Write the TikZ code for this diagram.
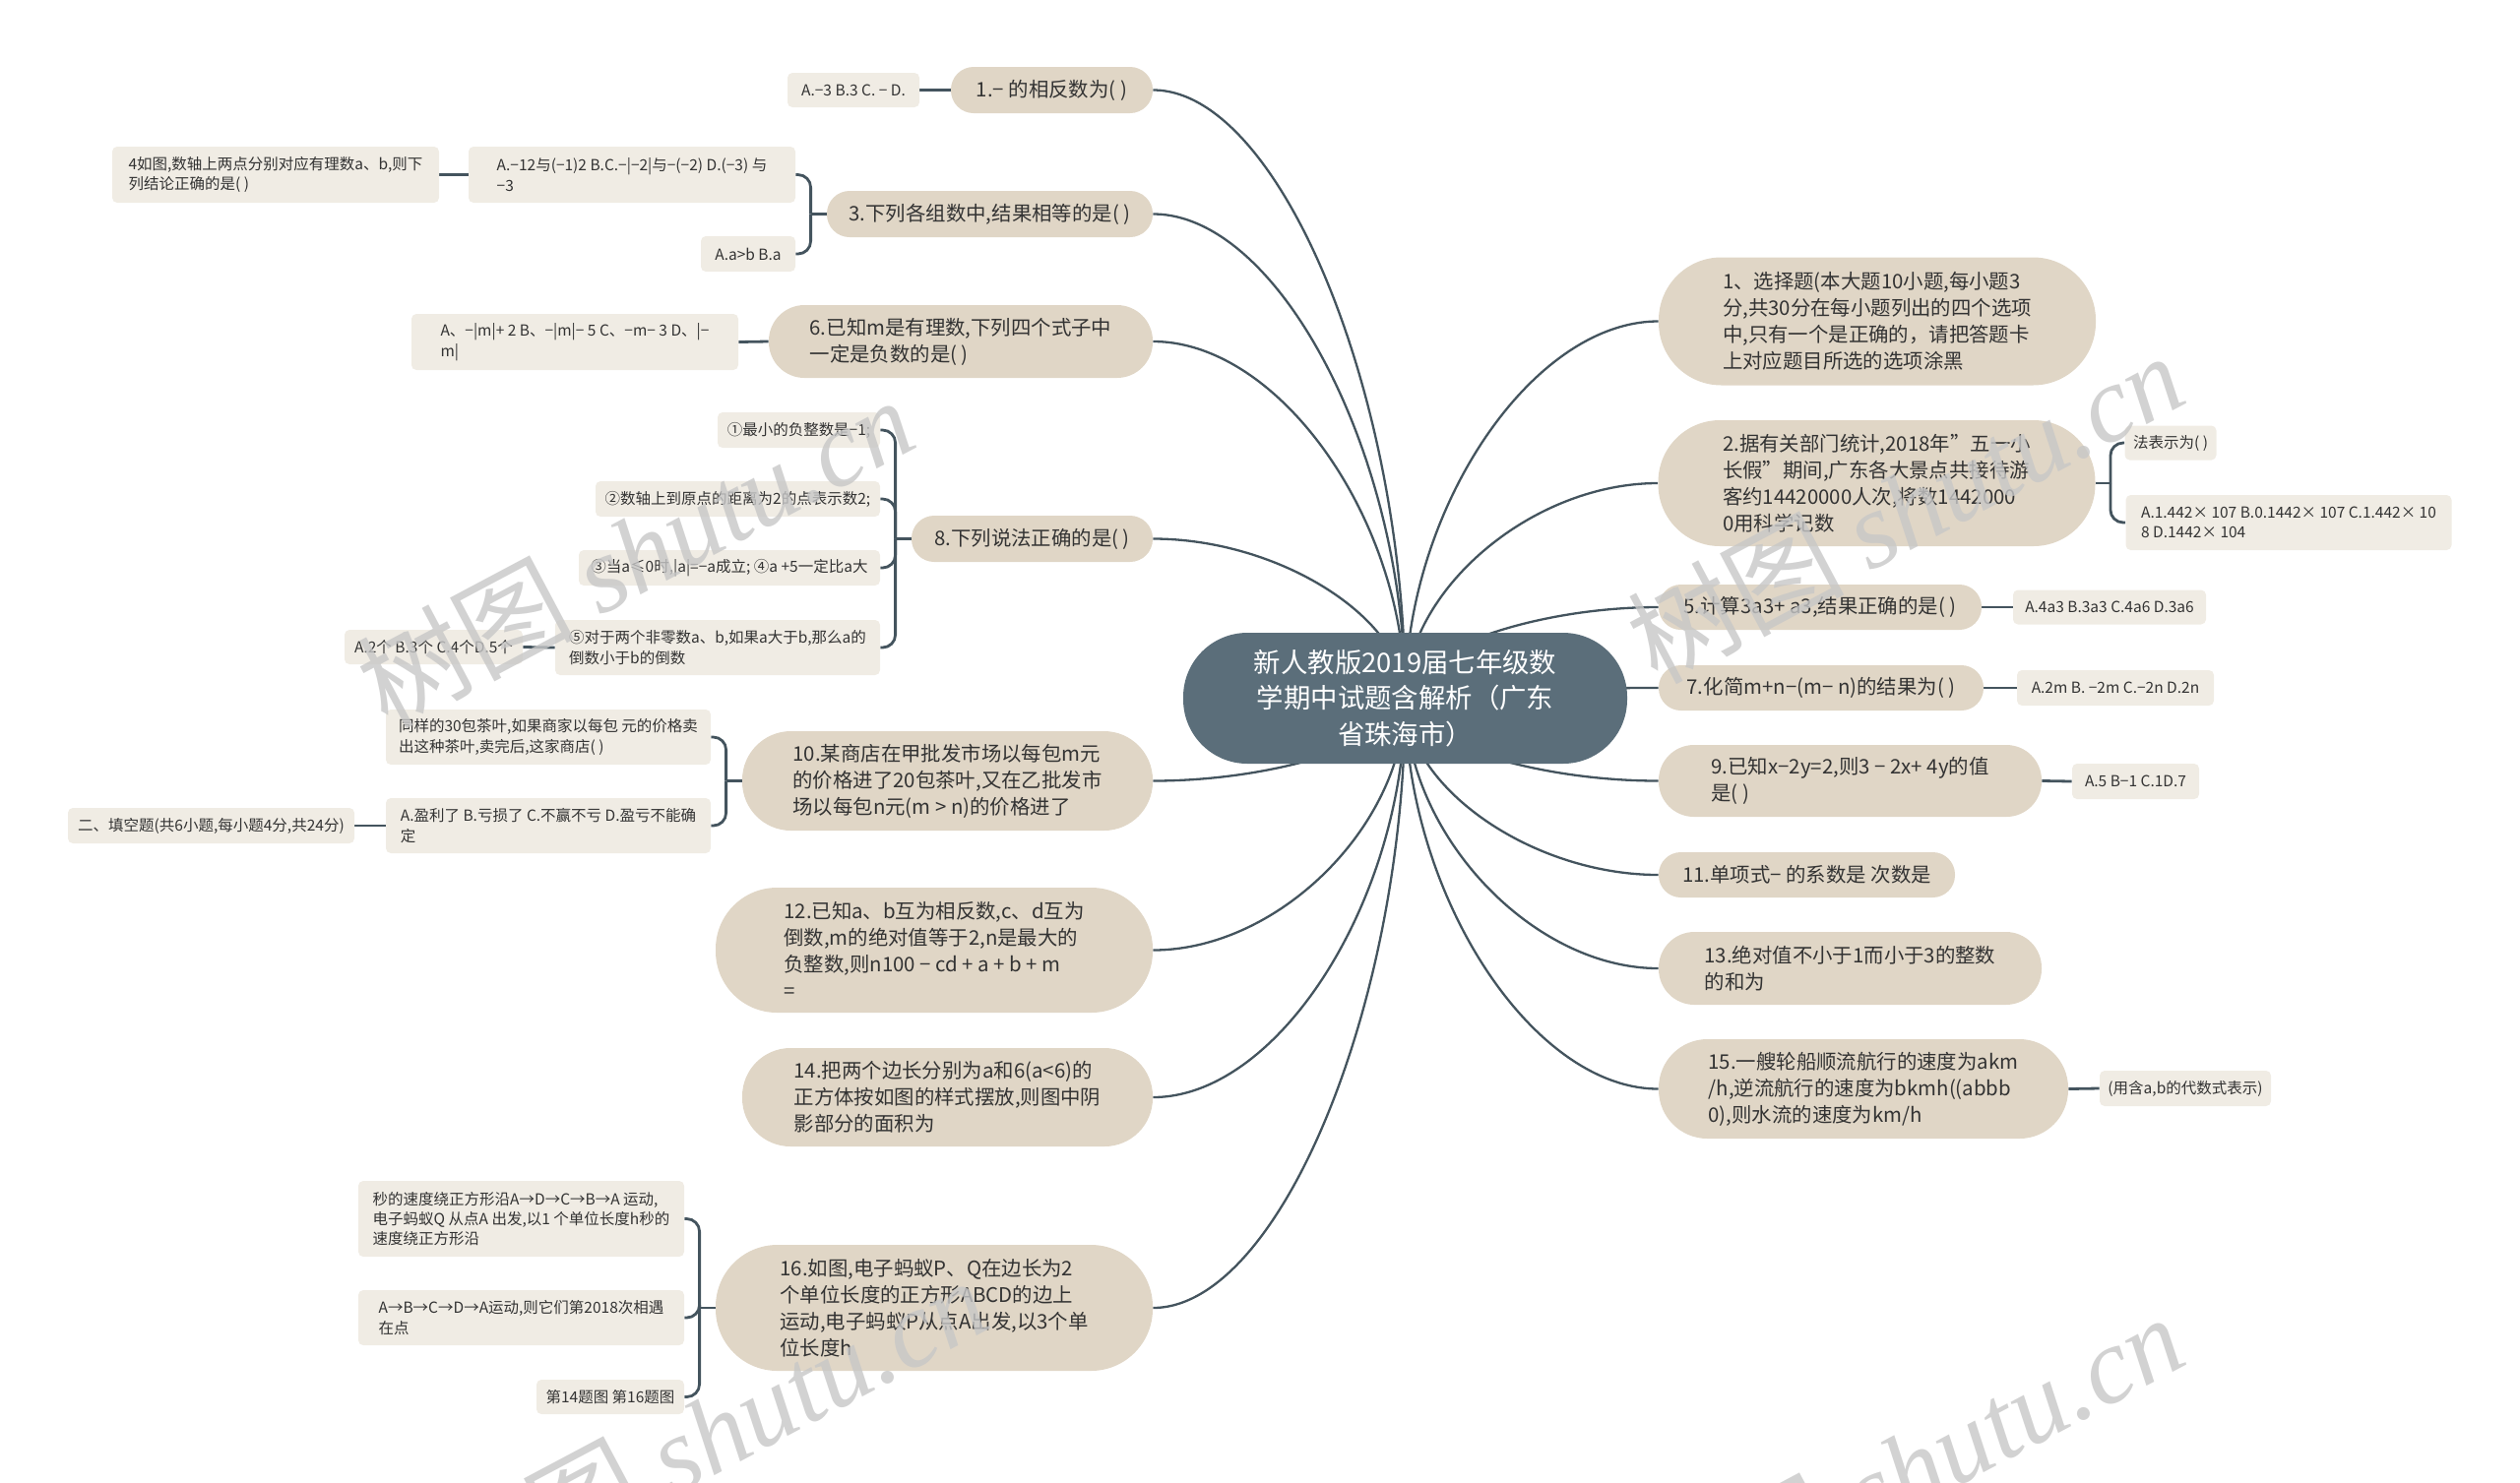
\documentclass[tikz,border=0pt]{standalone}
\usepackage{fontspec}
\setmainfont{Noto Sans CJK SC}
\newfontfamily\wmlat{Liberation Serif}
\usetikzlibrary{calc}
\definecolor{mfill}{HTML}{E0D6C6}
\definecolor{sfill}{HTML}{F0ECE4}
\definecolor{cfill}{HTML}{5B6E7A}
\definecolor{lcol}{HTML}{44545E}
\definecolor{tcol}{HTML}{333333}
\pgfdeclarelayer{bg}\pgfdeclarelayer{fg}\pgfsetlayers{bg,main,fg}
\begin{document}
\begin{tikzpicture}[x=0.5pt,y=-0.5pt,
 wh/.style 2 args={minimum width=#1*0.5pt, minimum height=#2*0.5pt},
 pill/.style={rounded corners=#1*0.245pt},
 mnode/.style={fill=mfill, text=tcol, inner sep=0pt, align=left, font=\fontsize{10.2pt}{13.5pt}\selectfont},
 snode/.style={fill=sfill, text=tcol, inner sep=0pt, align=left, rounded corners=2.5pt, font=\fontsize{7.75pt}{10.2pt}\selectfont},
 cnode/.style={fill=cfill, text=white, inner sep=0pt, align=center, font=\fontsize{13.7pt}{18.35pt}\selectfont},
 mline/.style={draw=lcol, line width=1.15pt},
 bline/.style={draw=lcol, line width=1.4pt, rounded corners=6.5pt},
 wm/.style={text=black!22, opacity=0.8, rotate=28, inner sep=0pt, font=\fontsize{55pt}{60pt}\selectfont}
]
\useasboundingbox (0,0) rectangle (2560,1506);

% centre
\node[cnode, wh={451}{133}, pill=133] (C) at (1427.5,709.5) {新人教版2019届七年级数\\学期中试题含解析（广东\\省珠海市）};

% right side
\node[mnode, wh={444}{130}, pill=130] (R1) at (1907,326.5) {1、选择题(本大题10小题,每小题3\\分,共30分在每小题列出的四个选项\\中,只有一个是正确的，请把答题卡\\上对应题目所选的选项涂黑};
\node[mnode, wh={444}{128}, pill=128] (R2) at (1906.5,491) {2.据有关部门统计,2018年"五一小\\长假"期间,广东各大景点共接待游\\客约14420000人次,将数1442000\\0用科学记数};
\node[snode, wh={93}{35}] (R2a) at (2205,450) {法表示为( )};
\node[snode, wh={331}{56}] (R2b) at (2325,531) {A.1.442× 107 B.0.1442× 107 C.1.442× 10\\8 D.1442× 104};
\node[mnode, wh={328}{46}, pill=46] (R3) at (1849,617) {5.计算3a3+ a3,结果正确的是( )};
\node[snode, wh={196}{35}] (R3a) at (2143,617) {A.4a3 B.3a3 C.4a6 D.3a6};
\node[mnode, wh={330}{46}, pill=46] (R4) at (1850,699) {7.化简m+n−(m− n)的结果为( )};
\node[snode, wh={200}{36}] (R4a) at (2149,699) {A.2m B. −2m C.−2n D.2n};
\node[mnode, wh={389}{73}, pill=73] (R5) at (1879.5,793.5) {9.已知x−2y=2,则3 − 2x+ 4y的值\\是( )};
\node[snode, wh={129}{36}] (R5a) at (2169.5,794) {A.5 B−1 C.1D.7};
\node[mnode, wh={301}{46}, pill=46] (R6) at (1835.5,889) {11.单项式− 的系数是 次数是};
\node[mnode, wh={389}{74}, pill=74] (R7) at (1879.5,984) {13.绝对值不小于1而小于3的整数\\的和为};
\node[mnode, wh={416}{101}, pill=101] (R8) at (1893,1106.5) {15.一艘轮船顺流航行的速度为akm\\/h,逆流航行的速度为bkmh((abbb\\0),则水流的速度为km/h};
\node[snode, wh={174}{36}] (R8a) at (2220,1106) {(用含a,b的代数式表示)};

% left side
\node[mnode, wh={205}{47}, pill=47] (L1) at (1068.5,91.5) {1.− 的相反数为( )};
\node[snode, wh={134}{35}] (L1a) at (867,91.5) {A.−3 B.3 C. − D.};
\node[mnode, wh={331}{47}, pill=47] (L2) at (1005.5,217.5) {3.下列各组数中,结果相等的是( )};
\node[snode, wh={332}{57}] (L2a) at (642,177.5) {A.−12与(−1)2 B.C.−|−2|与−(−2) D.(−3) 与\\−3};
\node[snode, wh={332}{57}] (L2a1) at (280,177.5) {4如图,数轴上两点分别对应有理数a、b,则下\\列结论正确的是( )};
\node[snode, wh={96}{36}] (L2b) at (760,258) {A.a>b B.a};
\node[mnode, wh={390}{74}, pill=74] (L3) at (976,347) {6.已知m是有理数,下列四个式子中\\一定是负数的是( )};
\node[snode, wh={332}{57}] (L3a) at (584,347.5) {A、−|m|+ 2 B、−|m|− 5 C、−m− 3 D、|−\\m|};
\node[mnode, wh={245}{47}, pill=47] (L4) at (1048.5,547.5) {8.下列说法正确的是( )};
\node[snode, wh={165}{36}] (L4a) at (811.5,437) {①最小的负整数是−1;};
\node[snode, wh={289}{36}] (L4b) at (749.5,507) {②数轴上到原点的距离为2的点表示数2;};
\node[snode, wh={306}{36}] (L4c) at (741,577) {③当a≤0时,|a|=−a成立; ④a +5一定比a大};
\node[snode, wh={330}{56}] (L4d) at (729,658) {⑤对于两个非零数a、b,如果a大于b,那么a的\\倒数小于b的倒数};
\node[snode, wh={181}{35}] (L4d1) at (440.5,657.5) {A.2个 B.3个 C.4个D.5个};
\node[mnode, wh={417}{101}, pill=101] (L5) at (962.5,793.5) {10.某商店在甲批发市场以每包m元\\的价格进了20包茶叶,又在乙批发市\\场以每包n元(m > n)的价格进了};
\node[snode, wh={330}{56}] (L5a) at (557,749) {同样的30包茶叶,如果商家以每包 元的价格卖\\出这种茶叶,卖完后,这家商店( )};
\node[snode, wh={330}{56}] (L5b) at (557,839) {A.盈利了 B.亏损了 C.不赢不亏 D.盈亏不能确\\定};
\node[snode, wh={291}{36}] (L5b1) at (214.5,839) {二、填空题(共6小题,每小题4分,共24分)};
\node[mnode, wh={444}{127}, pill=127] (L6) at (949,965.5) {12.已知a、b互为相反数,c、d互为\\倒数,m的绝对值等于2,n是最大的\\负整数,则n100 − cd + a + b + m\\=};
\node[mnode, wh={417}{100}, pill=100] (L7) at (962.5,1115) {14.把两个边长分别为a和6(a<6)的\\正方体按如图的样式摆放,则图中阴\\影部分的面积为};
\node[mnode, wh={444}{128}, pill=128] (L8) at (949,1329) {16.如图,电子蚂蚁P、Q在边长为2\\个单位长度的正方形ABCD的边上\\运动,电子蚂蚁P从点A出发,以3个单\\位长度h};
\node[snode, wh={331}{77}] (L8a) at (529.5,1238.5) {秒的速度绕正方形沿A→D→C→B→A 运动,\\电子蚂蚁Q 从点A 出发,以1 个单位长度h秒的\\速度绕正方形沿};
\node[snode, wh={331}{56}] (L8b) at (529.5,1339) {A→B→C→D→A运动,则它们第2018次相遇\\在点};
\node[snode, wh={150}{35}] (L8c) at (620,1419.5) {第14题图 第16题图};

\begin{pgfonlayer}{bg}
\foreach \n in {L1,L2,L3,L4,L5,L6,L7,L8}
  \draw[mline] (C.center) .. controls ($(C.center)!0.5!(C.center|-\n.east)$) and ($(\n.east)!0.5!(C.center|-\n.east)$) .. (\n.east);
\foreach \n in {R1,R2,R3,R4,R5,R6,R7,R8}
  \draw[mline] (C.center) .. controls ($(C.center)!0.5!(C.center|-\n.west)$) and ($(\n.west)!0.5!(C.center|-\n.west)$) .. (\n.west);
% single links
\draw[bline] (L1.west) -- (L1a.east);
\draw[bline] (L2a.west) -- (L2a1.east);
\draw[bline] (L3.west) -- (L3a.east);
\draw[bline] (L4d.west) -- (L4d1.east);
\draw[bline] (L5b.west) -- (L5b1.east);
\draw[bline] (R3.east) -- (R3a.west);
\draw[bline] (R4.east) -- (R4a.west);
\draw[bline] (R5.east) -- (R5a.west);
\draw[bline] (R8.east) -- (R8a.west);
% brackets
\draw[bline] (L2.west) -- ++(-16,0) coordinate (jL2);
\foreach \c in {L2a,L2b} \draw[bline] (jL2) |- (\c.east);
\draw[bline] (L4.west) -- ++(-16,0) coordinate (jL4);
\foreach \c in {L4a,L4b,L4c,L4d} \draw[bline] (jL4) |- (\c.east);
\draw[bline] (L5.west) -- ++(-16,0) coordinate (jL5);
\foreach \c in {L5a,L5b} \draw[bline] (jL5) |- (\c.east);
\draw[bline] (L8.west) -- ++(-16,0) coordinate (jL8);
\foreach \c in {L8a,L8b,L8c} \draw[bline] (jL8) |- (\c.east);
\draw[bline] (R2.east) -- ++(15,0) coordinate (jR2);
\foreach \c in {R2a,R2b} \draw[bline] (jR2) |- (\c.west);
\end{pgfonlayer}

\begin{pgfonlayer}{fg}
\node[wm] (W1) at (645,560) {树图 {\wmlat\itshape shutu.cn}};
\node[wm] (W2) at (1935,515) {树图 {\wmlat\itshape shutu.cn}};
\node[wm] (W3) at (720,1455) {树图 {\wmlat\itshape shutu.cn}};
\node[wm] (W4) at (1935,1492) {树图 {\wmlat\itshape shutu.cn}};
\end{pgfonlayer}
\end{tikzpicture}
\end{document}
